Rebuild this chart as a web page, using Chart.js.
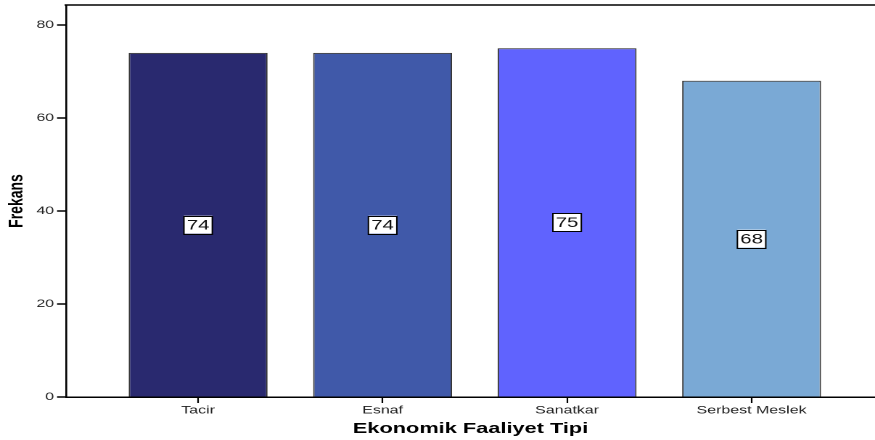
<!DOCTYPE html>
<html>
<head>
<meta charset="utf-8">
<script src="https://cdn.jsdelivr.net/npm/chart.js@4"></script>
<style>
  html, body { margin: 0; padding: 0; background: #fff; overflow: hidden; }
  /* orijinal grafik yatayda gerilmiş görünüyor: 603 px genişlikte çizip 875 px'e geriyoruz */
  #chart { display: block; width: 875px; height: 440px; }
</style>
</head>
<body>
<canvas id="chart" width="603" height="440" style="width:875px;height:440px"></canvas>
<script>
// Ekonomik faaliyet tipine göre frekans
const KATEGORILER = ["Tacir", "Esnaf", "Sanatkar", "Serbest Meslek"];
const FREKANS = [74, 74, 75, 68];
const RENKLER = ["#29296f", "#4059a9", "#6063fe", "#7aa9d5"];
const Y_TICKS = [0, 20, 40, 60, 80];

const FONT = "'Liberation Sans', Arial, sans-serif";

// kutulu değer etiketleri, çubuğun ortasında
const etiketler = {
  id: "etiketler",
  afterDatasetsDraw(chart) {
    const ctx = chart.ctx;
    const meta = chart.getDatasetMeta(0);
    ctx.save();
    ctx.font = "14px " + FONT;
    ctx.textAlign = "center";
    ctx.textBaseline = "middle";
    meta.data.forEach((bar, i) => {
      const txt = String(FREKANS[i]);
      const cy = (bar.y + bar.base) / 2;
      const w = ctx.measureText(txt).width + 4;
      const h = 18;
      ctx.fillStyle = "#fff";
      ctx.fillRect(bar.x - w / 2, cy - h / 2, w, h);
      ctx.strokeStyle = "#000";
      ctx.lineWidth = 1;
      ctx.strokeRect(bar.x - w / 2, Math.round(cy - h / 2) + 0.5, w, h);
      ctx.fillStyle = "#111";
      ctx.fillText(txt, bar.x, cy + 1);
    });
    ctx.restore();
  },
};

// üst çerçeve çizgisi
const ustCizgi = {
  id: "ustCizgi",
  afterDraw(chart) {
    const { ctx, chartArea } = chart;
    ctx.save();
    ctx.strokeStyle = "#000";
    ctx.lineWidth = 1.5;
    ctx.beginPath();
    ctx.moveTo(chartArea.left - 1, chartArea.top);
    ctx.lineTo(chartArea.right, chartArea.top);
    ctx.stroke();
    ctx.restore();
  },
};

new Chart(document.getElementById("chart"), {
  type: "bar",
  data: {
    datasets: [{
      data: FREKANS.map((v, i) => ({ x: i, y: v })),
      backgroundColor: RENKLER,
      borderColor: "#333",
      borderWidth: 1,
      categoryPercentage: 1,
      barPercentage: 0.753,
    }],
  },
  options: {
    responsive: false,
    devicePixelRatio: 2,
    animation: false,
    layout: { padding: { top: 5, right: 0, left: 0, bottom: 0 } },
    plugins: { legend: { display: false }, tooltip: { enabled: false } },
    scales: {
      x: {
        type: "linear",
        offset: false,
        min: -0.716,
        max: 3.669,
        afterFit: (s) => { s.height = 43; s.paddingLeft = 0; s.paddingRight = 0; },
        ticks: {
          stepSize: 1,
          includeBounds: false,
          autoSkip: false,
          maxRotation: 0,
          padding: 1,
          color: "#222",
          font: { family: FONT, size: 11 },
          callback: (v) => KATEGORILER[v] ?? "",
        },
        grid: { display: true, offset: false, drawOnChartArea: false, drawTicks: true, tickLength: 6, tickColor: "#000", tickWidth: 1.1 },
        border: { display: true, color: "#000", width: 1.5 },
        title: {
          display: true,
          text: "Ekonomik Faaliyet Tipi",
          color: "#000",
          font: { family: FONT, size: 15, weight: "bold" },
          padding: { top: 0, bottom: 2 },
        },
      },
      y: {
        min: 0,
        max: 84.3,
        afterFit: (s) => { s.width = 45.5; s.paddingTop = 0; s.paddingBottom = 0; },
        afterBuildTicks: (s) => { s.ticks = Y_TICKS.map((v) => ({ value: v })); },
        ticks: {
          includeBounds: false,
          padding: 2,
          color: "#222",
          font: { family: FONT, size: 11 },
        },
        grid: { display: true, drawOnChartArea: false, drawTicks: true, tickLength: 6.2, tickColor: "#000", tickWidth: 1.5 },
        border: { display: true, color: "#000", width: 1.3 },
        title: {
          display: true,
          text: "Frekans",
          color: "#000",
          font: { family: FONT, size: 14, weight: "bold" },
          padding: { top: 3.3, bottom: 0 },
        },
      },
    },
  },
  plugins: [etiketler, ustCizgi],
});
</script>
</body>
</html>
